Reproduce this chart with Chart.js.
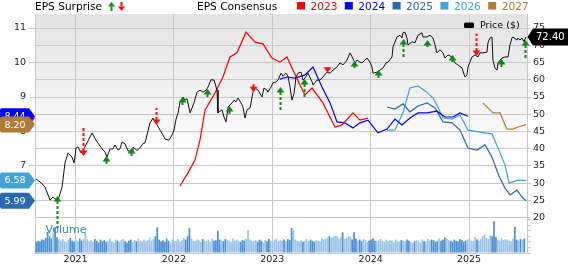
<!DOCTYPE html>
<html>
<head>
<meta charset="utf-8">
<script src="https://cdn.jsdelivr.net/npm/chart.js@4.4.1/dist/chart.umd.min.js"></script>
<style>
  html, body { margin: 0; padding: 0; background: #fff; }
</style>
</head>
<body>
<canvas id="epsChart" width="568" height="264"></canvas>
<script>
/* Precio semanal + consenso EPS + sorpresas */

// precio (tiempo en años decimales)
const priceTime = [
  2020.599,2020.639,2020.690,2020.741,2020.771,2020.812,2020.832,2020.863,2020.893,2020.924,
  2020.964,2020.985,2021.005,2021.025,2021.056,2021.076,2021.117,2021.168,2021.198,2021.219,
  2021.249,2021.280,2021.300,2021.320,2021.351,2021.381,2021.401,2021.432,2021.452,2021.473,
  2021.503,2021.534,2021.574,2021.584,2021.625,2021.656,2021.686,2021.706,2021.727,2021.757,
  2021.788,2021.808,2021.828,2021.859,2021.889,2021.910,2021.950,2021.981,2022.001,2022.021,
  2022.042,2022.062,2022.093,2022.113,2022.133,2022.164,2022.184,2022.204,2022.235,2022.265,
  2022.296,2022.326,2022.347,2022.377,2022.408,2022.438,2022.448,2022.489,2022.509,2022.530,
  2022.550,2022.591,2022.611,2022.631,2022.652,2022.682,2022.702,2022.723,2022.743,2022.774,
  2022.804,2022.824,2022.855,2022.895,2022.916,2022.946,2022.956,2022.987,2023.007,2023.038,
  2023.058,2023.089,2023.109,2023.139,2023.160,2023.180,2023.200,2023.221,2023.241,2023.261,
  2023.292,2023.312,2023.332,2023.363,2023.404,2023.414,2023.454,2023.485,2023.515,2023.556,
  2023.587,2023.617,2023.658,2023.688,2023.719,2023.759,2023.790,2023.810,2023.841,2023.861,
  2023.891,2023.912,2023.942,2023.963,2023.993,2024.013,2024.024,2024.064,2024.095,2024.125,
  2024.156,2024.176,2024.217,2024.227,2024.267,2024.298,2024.318,2024.328,2024.349,2024.369,
  2024.379,2024.420,2024.450,2024.481,2024.521,2024.532,2024.572,2024.603,2024.633,2024.654,
  2024.674,2024.704,2024.735,2024.755,2024.786,2024.826,2024.857,2024.887,2024.928,2024.958,
  2024.979,2024.989,2025.030,2025.060,2025.091,2025.111,2025.141,2025.182,2025.192,2025.213,
  2025.233,2025.243,2025.263,2025.284,2025.294,2025.335,2025.365,2025.396,2025.416,2025.436,
  2025.446,2025.487,2025.497,2025.517,2025.538,2025.558,2025.578
];
const priceClose = [
  31.2,30.4,28.9,25.1,26.0,25.1,26.0,28.9,35.9,38.8,
  37.6,35.9,40.2,40.5,38.8,39.6,41.7,44.6,43.0,42.0,
  40.8,39.6,39.1,37.6,39.9,40.0,41.1,39.6,40.0,42.0,
  41.4,39.4,39.0,40.5,39.5,40.3,41.5,41.7,44.0,47.5,
  48.9,47.8,47.0,45.4,44.0,42.8,42.5,44.0,45.4,48.5,
  50.4,53.5,55.0,54.1,54.5,50.4,51.8,53.3,56.4,57.0,
  56.4,57.0,57.9,60.0,59.9,57.0,50.4,51.3,49.2,47.8,
  52.1,53.3,54.1,53.6,54.7,53.3,52.1,48.9,51.3,51.8,
  56.4,57.6,57.0,55.0,57.6,57.0,56.4,57.9,59.1,59.4,
  59.9,61.9,61.0,61.9,61.0,57.9,54.1,56.0,60.8,61.9,
  62.2,59.9,60.5,61.9,59.4,58.5,59.9,59.9,60.8,62.2,
  61.9,62.8,63.7,64.9,64.3,65.7,67.8,66.7,64.9,65.7,
  65.1,64.9,65.7,66.3,65.1,63.7,61.9,62.2,62.8,63.4,
  64.9,65.1,66.6,69.5,72.4,72.9,72.1,73.6,73.8,72.1,
  70.1,71.0,70.7,72.9,73.6,72.4,72.4,72.9,72.1,70.1,
  67.8,68.7,67.8,66.3,67.2,66.6,64.9,64.3,63.4,60.8,
  61.4,63.7,66.6,67.2,66.6,67.8,67.8,68.0,70.7,72.1,
  72.4,65.7,63.4,62.8,64.9,66.3,66.6,66.6,70.1,72.1,
  72.4,71.5,72.1,71.5,72.1,71.0,72.4
];

// consenso EPS por año fiscal
const eps2023Time = [2022.062,2022.143,2022.214,2022.265,2022.316,2022.418,2022.499,2022.570,2022.641,2022.733,2022.824,2022.905,2022.997,2023.078,2023.149,2023.210,2023.282,2023.332,2023.404,2023.515,2023.637,2023.708,2023.820,2023.891,2023.973];
const eps2023 = [6.42,6.80,7.17,7.75,8.62,9.12,9.58,10.16,10.28,10.88,10.59,10.54,10.13,10.01,10.16,9.78,9.35,9.06,9.26,8.83,8.13,8.19,8.54,8.33,8.39];
const eps2024Time = [2023.078,2023.149,2023.231,2023.332,2023.414,2023.505,2023.587,2023.658,2023.739,2023.820,2023.891,2023.973,2024.074,2024.166,2024.247,2024.318,2024.399,2024.481,2024.572,2024.674,2024.755,2024.836,2024.908,2024.989];
const eps2024 = [9.52,9.58,9.55,9.64,9.87,9.29,8.83,8.28,8.25,8.10,8.25,8.33,7.96,8.07,8.36,8.19,8.39,8.54,8.54,8.59,8.42,8.42,8.54,8.44];
const eps2025Time = [2024.166,2024.247,2024.328,2024.399,2024.481,2024.572,2024.654,2024.735,2024.826,2024.908,2024.989,2025.080,2025.162,2025.233,2025.304,2025.365,2025.416,2025.487,2025.538,2025.579];
const eps2025 = [8.71,8.65,8.80,8.57,8.74,8.83,8.68,8.28,8.25,8.04,7.52,7.46,7.61,7.26,6.71,6.36,6.16,6.30,6.10,5.99];
const eps2026Time = [2024.166,2024.247,2024.328,2024.399,2024.481,2024.572,2024.633,2024.684,2024.735,2024.826,2024.908,2024.989,2025.162,2025.233,2025.304,2025.365,2025.406,2025.446,2025.497,2025.579];
const eps2026 = [8.04,8.04,8.54,9.26,9.32,9.14,8.97,8.71,8.39,8.36,8.48,8.04,7.96,7.93,7.46,7.03,6.51,6.54,6.59,6.58];
const eps2027Time = [2025.141,2025.243,2025.314,2025.385,2025.446,2025.497,2025.579];
const eps2027 = [8.83,8.54,8.54,8.07,8.07,8.13,8.20];

// sorpresas EPS: fecha, precio en la punta, precio en la cola
const beatTime = [2020.812,2021.310,2021.564,2022.082,2022.336,2022.560,2023.078,2023.322,2023.831,2024.074,2024.328,2024.572,2024.826,2025.324,2025.568];
const beatTip  = [26.3,37.9,40.2,55.0,57.3,52.4,57.9,60.2,65.4,62.8,71.8,71.5,67.2,66.0,71.5];
const beatTail = [17.0,35.0,37.3,52.4,54.7,49.8,51.2,54.7,63.4,60.5,66.6,69.5,65.1,63.7,66.3];
const missTime = [2021.076,2021.818,2022.804,2023.556,2025.070];
const missTip  = [37.9,46.9,56.4,62.0,66.9];
const missTail = [46.0,51.8,58.8,63.7,73.3];

// volumen semanal (miles), desde volStart
const volStart = 2020.600;
const volWeekly = [
  20,22,21,24,23,27,38,30,26,36,45,28,24,
  22,25,21,19,23,27,22,20,24,21,26,22,25,
  36,24,21,23,20,25,22,19,24,21,23,20,22,
  26,21,19,24,22,20,23,25,21,19,22,24,20,
  23,21,26,22,20,24,21,23,28,22,25,30,46,
  24,21,23,20,26,22,19,24,21,22,25,20,23,
  27,24,30,45,26,22,21,24,23,20,25,22,21,
  24,20,26,22,23,40,24,22,21,25,23,22,20,
  26,22,24,21,20,23,22,25,41,24,22,21,23,
  20,24,22,19,23,21,25,22,20,24,26,21,23,
  22,24,21,25,23,45,40,24,22,21,23,20,22,
  25,21,24,22,20,23,22,21,26,24,25,28,30,
  27,29,31,30,26,28,37,25,27,30,29,24,37,
  26,22,24,21,25,23,20,22,24,26,22,21,23,
  25,22,20,24,21,23,22,19,24,21,20,23,22,
  21,24,22,20,18,21,23,22,19,24,21,20,25,
  22,24,23,20,21,26,22,24,28,25,23,22,20,
  24,22,21,25,23,20,22,24,26,22,21,28,24,
  22,25,30,33,27,25,32,30,57,28,24,22,26,
  23,25,24,22,21,26,47,24,22,25,23,26
];

const yearTicks = [2021, 2022, 2023, 2024, 2025];
const epsTicks = [6, 7, 8, 9, 10, 11];
const priceTicks = [20, 25, 30, 35, 40, 45, 50, 55, 60, 65, 70, 75];
const volTicks = [0, 10, 20, 30, 40, 50, 60];

const colores = {
  '2023': '#ff0000',
  '2024': '#0000ff',
  '2025': '#2a68b2',
  '2026': '#42a3d6',
  '2027': '#b07b37'
};
const gris = '#c8c8c8';
const fuente = 'DejaVu Sans';

function pares(t, v) {
  return t.map((x, i) => ({ x: x, y: v[i] }));
}

function precioEn(t) {
  for (let i = 1; i < priceTime.length; i++) {
    if (priceTime[i] >= t) {
      const f = (t - priceTime[i - 1]) / (priceTime[i] - priceTime[i - 1]);
      return priceClose[i - 1] + f * (priceClose[i] - priceClose[i - 1]);
    }
  }
  return priceClose[priceClose.length - 1];
}

let volData = [];
let volColor = [];
for (let i = 0; i < volWeekly.length; i++) {
  const t = volStart + i / 52;
  volData.push({ x: t, y: volWeekly[i] });
  const sube = precioEn(t) >= precioEn(t - 1 / 52);
  volColor.push(sube ? '#9cc2e8' : '#4a8fd2');
}

// fondo gris degradado del panel de precio
const fondo = {
  id: 'fondo',
  beforeDraw(chart) {
    const ctx = chart.ctx;
    const a = chart.chartArea;
    const y20 = chart.scales.yP.getPixelForValue(20);
    const g = ctx.createLinearGradient(0, a.top, 0, y20);
    g.addColorStop(0, '#e3e3e3');
    g.addColorStop(0.72, '#ffffff');
    ctx.save();
    ctx.fillStyle = g;
    ctx.fillRect(a.left, a.top, a.right - a.left, y20 - a.top);
    ctx.restore();
  }
};

function flecha(ctx, x, yTip, yTail, color, arriba) {
  const d = arriba ? 1 : -1;
  ctx.save();
  ctx.strokeStyle = color;
  ctx.fillStyle = color;
  ctx.lineWidth = 2;
  ctx.setLineDash([3, 2]);
  ctx.beginPath();
  ctx.moveTo(x, yTip + d * 5);
  ctx.lineTo(x, yTail);
  ctx.stroke();
  ctx.setLineDash([]);
  ctx.beginPath();
  ctx.moveTo(x, yTip);
  ctx.lineTo(x - 4, yTip + d * 5.5);
  ctx.lineTo(x + 4, yTip + d * 5.5);
  ctx.closePath();
  ctx.fill();
  ctx.restore();
}

const sorpresas = {
  id: 'sorpresas',
  afterDatasetsDraw(chart) {
    const ctx = chart.ctx;
    const sx = chart.scales.x;
    const sy = chart.scales.yP;
    for (let i = 0; i < beatTime.length; i++) {
      flecha(ctx, Math.round(sx.getPixelForValue(beatTime[i])) + 0.5,
        sy.getPixelForValue(beatTip[i]), sy.getPixelForValue(beatTail[i]), '#13891a', true);
    }
    for (let i = 0; i < missTime.length; i++) {
      flecha(ctx, Math.round(sx.getPixelForValue(missTime[i])) + 0.5,
        sy.getPixelForValue(missTip[i]), sy.getPixelForValue(missTail[i]), '#ff1010', false);
    }
  }
};

function etiquetaIzq(ctx, y, color, texto) {
  ctx.save();
  ctx.fillStyle = color;
  ctx.beginPath();
  ctx.moveTo(2, y - 8);
  ctx.lineTo(29, y - 8);
  ctx.lineTo(35, y);
  ctx.lineTo(29, y + 8);
  ctx.lineTo(2, y + 8);
  ctx.quadraticCurveTo(0, y + 8, 0, y + 6);
  ctx.lineTo(0, y - 6);
  ctx.quadraticCurveTo(0, y - 8, 2, y - 8);
  ctx.fill();
  ctx.fillStyle = '#ffffff';
  ctx.font = '9.5px ' + fuente;
  ctx.textAlign = 'center';
  ctx.textBaseline = 'middle';
  ctx.fillText(texto, 15, y + 0.5);
  ctx.restore();
}

const textos = {
  id: 'textos',
  afterDraw(chart) {
    const ctx = chart.ctx;
    const yE = chart.scales.yE;
    const yP = chart.scales.yP;
    const a = chart.chartArea;

    // etiquetas de último valor EPS
    const series = [['2023', eps2023], ['2024', eps2024], ['2025', eps2025], ['2026', eps2026], ['2027', eps2027]];
    series.forEach(s => {
      const v = s[1][s[1].length - 1];
      etiquetaIzq(ctx, yE.getPixelForValue(v), colores[s[0]], v.toFixed(2));
    });

    // etiqueta de último precio
    const ultimo = priceClose[priceClose.length - 1];
    const yp = yP.getPixelForValue(ultimo);
    ctx.save();
    ctx.fillStyle = '#000';
    ctx.beginPath();
    ctx.moveTo(a.right + 0.5, yp);
    ctx.lineTo(a.right + 6, yp - 8.5);
    ctx.lineTo(568, yp - 8.5);
    ctx.lineTo(568, yp + 8.5);
    ctx.lineTo(a.right + 6, yp + 8.5);
    ctx.closePath();
    ctx.fill();
    ctx.fillStyle = '#fff';
    ctx.font = '10px ' + fuente;
    ctx.textAlign = 'left';
    ctx.textBaseline = 'middle';
    ctx.fillText(ultimo.toFixed(2), a.right + 9, yp + 0.5);

    // cabecera
    ctx.textBaseline = 'alphabetic';
    ctx.font = '10.6px ' + fuente;
    ctx.fillStyle = '#000';
    ctx.fillText('EPS Surprise', 35, 10);
    ctx.fillStyle = '#13891a';
    ctx.beginPath();
    ctx.moveTo(111.5, 2); ctx.lineTo(108, 6.5); ctx.lineTo(115, 6.5); ctx.closePath(); ctx.fill();
    ctx.fillRect(110.5, 6.5, 2, 4.5);
    ctx.fillStyle = '#ff1010';
    ctx.fillRect(120.5, 2, 2, 4.5);
    ctx.beginPath();
    ctx.moveTo(121.5, 11); ctx.lineTo(118, 6.5); ctx.lineTo(125, 6.5); ctx.closePath(); ctx.fill();

    ctx.fillStyle = '#000';
    ctx.fillText('EPS Consensus', 197, 10);
    ['2023', '2024', '2025', '2026', '2027'].forEach((k, i) => {
      const x0 = 297 + i * 47.8;
      ctx.fillStyle = colores[k];
      ctx.fillRect(x0, 2, 8, 7.5);
      ctx.fillText(k, x0 + 13.5, 10);
    });

    // leyenda precio
    ctx.fillStyle = '#000';
    ctx.beginPath();
    ctx.roundRect(464, 22.5, 10, 5.5, 1.5);
    ctx.fill();
    ctx.font = '9.5px ' + fuente;
    ctx.textBaseline = 'middle';
    ctx.fillText('Price ($)', 480, 25.5);

    // rótulo volumen
    ctx.font = '11px ' + fuente;
    ctx.fillStyle = '#3a84c9';
    ctx.textBaseline = 'alphabetic';
    ctx.fillText('Volume', 45.5, 233);
    ctx.restore();
  }
};

Chart.defaults.font.family = fuente;

const ctx = document.getElementById('epsChart').getContext('2d');
new Chart(ctx, {
  type: 'line',
  data: {
    datasets: [
      { label: 'Price ($)', data: pares(priceTime, priceClose), yAxisID: 'yP', borderColor: '#111', borderWidth: 1, order: 1 },
      { label: '2023', data: pares(eps2023Time, eps2023), yAxisID: 'yE', borderColor: colores['2023'], borderWidth: 1.2, order: 2 },
      { label: '2024', data: pares(eps2024Time, eps2024), yAxisID: 'yE', borderColor: colores['2024'], borderWidth: 1.2, order: 2 },
      { label: '2025', data: pares(eps2025Time, eps2025), yAxisID: 'yE', borderColor: colores['2025'], borderWidth: 1.2, order: 2 },
      { label: '2026', data: pares(eps2026Time, eps2026), yAxisID: 'yE', borderColor: colores['2026'], borderWidth: 1.2, order: 2 },
      { label: '2027', data: pares(eps2027Time, eps2027), yAxisID: 'yE', borderColor: colores['2027'], borderWidth: 1.2, order: 2 },
      { type: 'bar', label: 'Volume', data: volData, yAxisID: 'yV', backgroundColor: volColor,
        barPercentage: 0.9, categoryPercentage: 1, order: 10 }
    ]
  },
  options: {
    responsive: false,
    animation: false,
    layout: { padding: { top: 14, left: 0, right: 0, bottom: 0 } },
    plugins: { legend: { display: false }, tooltip: { enabled: false } },
    elements: { point: { radius: 0 }, line: { tension: 0 } },
    scales: {
      x: {
        type: 'linear',
        offset: false,
        min: 2020.588,
        max: 2025.589,
        afterBuildTicks: s => { s.ticks = yearTicks.map(v => ({ value: v })); },
        afterFit: s => { s.height = 11; },
        ticks: { callback: v => String(v), color: '#222', font: { size: 9.5 }, padding: 1, maxRotation: 0, autoSkip: false },
        grid: { color: gris, drawTicks: false, offset: false },
        border: { color: gris }
      },
      yE: {
        position: 'left',
        min: 4.478,
        max: 11.406,
        afterBuildTicks: s => { s.ticks = epsTicks.map(v => ({ value: v })); },
        afterFit: s => { s.width = 35; },
        ticks: { color: '#222', font: { size: 9.5 }, padding: 3 },
        grid: { drawOnChartArea: false, tickLength: 6, color: gris },
        border: { color: gris }
      },
      yV: {
        position: 'right',
        weight: 0,
        min: 0,
        max: 428,
        afterBuildTicks: s => { s.ticks = volTicks.map(v => ({ value: v })); },
        afterFit: s => { s.width = 0; },
        ticks: { callback: v => (v === 0 ? '0' : v + 'K'), color: '#222', font: { size: 9.5 }, padding: 2 },
        grid: { drawOnChartArea: false, tickLength: 4, color: gris },
        border: { display: false }
      },
      yP: {
        position: 'right',
        weight: 1,
        min: 9.78,
        max: 79.06,
        afterBuildTicks: s => { s.ticks = priceTicks.map(v => ({ value: v })); },
        afterFit: s => { s.width = 41; },
        ticks: { color: '#222', font: { size: 9.5 }, padding: 2 },
        grid: { color: gris, tickLength: 4 },
        border: { color: gris }
      }
    }
  },
  plugins: [fondo, sorpresas, textos]
});
</script>
</body>
</html>
